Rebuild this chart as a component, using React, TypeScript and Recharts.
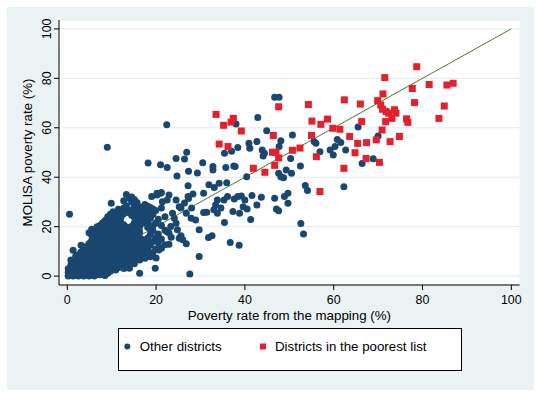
import React from 'react';
import { ScatterChart, Scatter, XAxis, YAxis, CartesianGrid, ReferenceLine, Legend, Label } from 'recharts';

const BLUE = '#1A476F';
const RED = '#E3202B';
const LINE = '#55752F';
const PANEL = '#EAF2F3';
const FONT = "'Liberation Sans', Arial, sans-serif";

const xTicks = [0, 20, 40, 60, 80, 100];
const yTicks = [0, 20, 40, 60, 80, 100];
const xTitle = 'Poverty rate from the mapping (%)';
const yTitle = 'MOLISA poverty rate (%)';
const seriesNames = ['Other districts', 'Districts in the poorest list'];

// Districts in the poorest list (x = mapping rate, y = MOLISA rate)
const poorestList: number[][] = [
  [33.5, 65.4], [34.2, 53.4], [35.2, 61.0], [36.2, 52.4], [36.9, 62.3], [37.4, 63.8], [39.2, 58.7],
  [41.9, 43.6], [44.5, 42.0], [46.4, 56.9], [46.2, 50.1], [47.0, 50.1], [46.7, 44.8], [47.6, 47.8],
  [47.6, 68.5], [50.7, 50.9], [52.4, 51.8], [54.3, 69.4], [55.0, 56.9], [55.1, 62.7], [56.1, 48.3],
  [56.9, 34.2], [57.1, 61.4], [58.6, 63.5], [59.8, 59.8], [61.4, 59.4], [62.4, 71.3], [62.3, 43.6],
  [63.6, 56.5], [64.8, 49.9], [65.4, 53.7], [66.0, 69.6], [66.3, 62.5], [67.4, 54.0], [67.3, 47.6],
  [69.6, 55.1], [69.9, 71.0], [70.3, 46.0], [70.9, 59.1], [71.1, 73.7], [71.5, 80.3], [70.6, 69.2],
  [71.0, 67.5], [71.8, 66.6], [72.4, 65.9], [73.7, 67.3], [74.0, 65.9], [73.1, 63.8], [71.7, 62.5],
  [72.7, 54.4], [74.8, 56.5], [76.4, 63.6], [76.7, 62.2], [77.7, 75.9], [78.2, 70.2], [78.7, 84.7],
  [81.5, 77.5], [83.7, 63.8], [84.9, 68.8], [85.5, 77.3], [86.9, 78.0],
];

// Other districts, scattered points
const otherSparse: number[][] = [
  [0.5, 25.0], [9.0, 52.1], [22.4, 61.2], [18.2, 45.8], [21.0, 45.0], [22.5, 43.9], [24.5, 47.6],
  [26.4, 47.4], [26.9, 50.1], [24.7, 40.5], [27.3, 42.4], [29.3, 41.7], [30.5, 45.9], [27.2, 36.6],
  [28.3, 33.2], [27.3, 31.4], [26.4, 29.6], [25.2, 28.1], [30.7, 33.5], [31.9, 37.0], [32.8, 44.3],
  [33.1, 35.8], [32.8, 42.9], [34.2, 37.6], [35.9, 37.8], [35.4, 49.7], [37.0, 50.5], [38.4, 52.0],
  [38.0, 61.5], [37.5, 44.5], [37.8, 44.3], [35.7, 43.9], [39.2, 32.4], [40.4, 40.2], [40.9, 53.7],
  [41.1, 51.7], [42.7, 54.4], [42.9, 64.2], [43.9, 51.0], [44.1, 48.6], [44.9, 58.8], [44.4, 49.7],
  [46.7, 72.3], [47.7, 72.3], [47.7, 52.4], [48.1, 54.8], [50.7, 57.1], [47.6, 41.6], [48.1, 40.2],
  [48.7, 39.8], [49.3, 42.9], [50.5, 41.6], [46.7, 31.5], [48.9, 32.2], [49.7, 33.5], [49.7, 29.5],
  [47.1, 27.1], [47.6, 26.4], [52.5, 44.5], [50.3, 47.6], [53.6, 36.7], [54.1, 34.6], [52.6, 21.3],
  [53.2, 17.0], [55.6, 54.4], [56.0, 53.7], [56.9, 50.3], [59.2, 51.0], [59.9, 49.0], [60.3, 52.4],
  [60.8, 55.3], [61.6, 54.0], [62.7, 51.0], [62.3, 36.1], [65.5, 60.3], [66.4, 45.6], [68.9, 47.5],
  [70.0, 56.7],
  [29.7, 7.9], [27.6, 0.9], [36.7, 13.6], [38.7, 12.5], [35.4, 21.7], [31.8, 15.6], [32.6, 16.3],
  [29.7, 18.7], [27.9, 23.4], [28.9, 22.7], [30.7, 25.7], [31.4, 25.8], [33.0, 26.8], [33.8, 25.4],
  [34.6, 27.5], [33.4, 28.8], [33.8, 30.8], [35.3, 30.8], [36.1, 32.2], [37.3, 26.1], [38.8, 25.4],
  [39.6, 28.1], [40.0, 30.8], [40.5, 27.1], [41.3, 22.9], [41.6, 32.6], [42.7, 28.8], [43.7, 31.9],
  [38.4, 32.2], [37.6, 31.2], [27.2, 32.2], [23.7, 25.4], [22.9, 32.8], [22.5, 30.8], [21.4, 30.1],
  [20.2, 33.5], [21.0, 33.5], [24.5, 21.4], [24.8, 18.7], [25.2, 15.3], [25.6, 16.3], [26.0, 14.7],
  [26.8, 13.1], [22.9, 12.9], [22.0, 12.7], [21.2, 11.3], [20.6, 10.6], [20.0, 7.3], [19.8, 3.2],
  [16.3, 1.2], [22.4, 18.0], [22.9, 17.4], [23.4, 15.7], [14.4, 5.2], [12.8, 3.2], [14.0, 3.2],
  [19.0, 32.2], [20.2, 32.8], [21.2, 33.8], [24.5, 30.8], [25.6, 27.5], [24.1, 23.4], [23.3, 20.1],
  [26.8, 25.4], [28.0, 27.5],
];

// Other districts, dense cluster near the origin: [x, y values...]
const otherDense: number[][] = [
  [0.2, 0, 1.5, 3],
  [0.8, 0.5, 2.5, 4.5, 6.5],
  [1.3, 0, 1.8, 3.5, 5.5, 10.5],
  [1.9, 0.8, 2.6, 4.4, 6.2, 8.0],
  [2.5, 0, 1.6, 3.3, 5.0, 6.8, 8.6],
  [3.1, 0.6, 2.4, 4.2, 6.0, 7.9, 9.8, 12.5],
  [3.7, 0, 1.5, 3.3, 5.1, 7.0, 8.8, 10.8],
  [4.3, 0.7, 2.5, 4.3, 6.2, 8.0, 10.0, 12.0],
  [4.9, 0, 1.6, 3.4, 5.3, 7.2, 9.1, 11.1, 13.2, 17.5],
  [5.5, 0.8, 2.6, 4.5, 6.4, 8.3, 10.2, 12.3, 14.5, 16.5, 19.0],
  [6.1, 0, 1.8, 3.6, 5.5, 7.4, 9.3, 11.3, 13.4, 15.5, 17.8],
  [6.7, 1.0, 2.9, 4.8, 6.7, 8.6, 10.5, 12.5, 14.6, 16.8, 20.0],
  [7.3, 0.5, 2.2, 4.0, 5.9, 7.8, 9.7, 11.7, 13.7, 15.8, 18.0, 20.5],
  [7.9, 1.5, 3.3, 5.2, 7.1, 9.0, 11.0, 13.0, 15.1, 17.2, 19.4, 21.5],
  [8.5, 0.2, 2.5, 4.4, 6.3, 8.2, 10.2, 12.2, 14.2, 16.3, 18.5, 20.8, 22.5],
  [9.1, 1.2, 3.6, 5.5, 7.4, 9.4, 11.4, 13.4, 15.5, 17.6, 19.8, 22.0, 24.0],
  [9.9, 29.5],
  [9.7, 2.0, 4.7, 6.6, 8.5, 10.5, 12.5, 14.6, 16.7, 18.9, 21.1, 23.4, 25.0],
  [10.3, 3.0, 5.8, 7.7, 9.6, 11.6, 13.6, 15.7, 17.8, 20.0, 22.2, 24.4, 26.0],
  [10.9, 2.5, 4.8, 6.9, 8.8, 10.8, 12.8, 14.8, 16.9, 19.1, 21.3, 23.5, 25.5],
  [11.5, 3.5, 5.9, 8.0, 10.0, 12.0, 14.0, 16.1, 18.2, 20.4, 22.6, 24.8, 27.0],
  [12.1, 4.5, 7.0, 9.1, 11.1, 13.1, 15.2, 17.3, 19.4, 21.6, 23.8, 26.0],
  [12.7, 3.2, 5.5, 8.2, 10.3, 12.3, 14.4, 16.5, 18.6, 20.8, 25.2, 27.5, 30.5],
  [13.3, 4.0, 6.6, 9.3, 11.5, 13.6, 15.7, 17.8, 19.9, 26.5, 28.5, 33.0],
  [13.9, 5.0, 7.8, 10.4, 12.6, 14.8, 16.9, 19.0, 25.6, 31.5],
  [14.5, 6.0, 9.0, 11.6, 13.8, 16.0, 18.1, 20.2, 24.6, 26.8, 30.0, 32.0],
  [15.1, 5.0, 7.5, 10.2, 12.8, 15.0, 17.2, 19.4, 21.6, 23.8, 26.0, 28.2, 31.0],
  [15.7, 7.0, 9.5, 11.8, 14.0, 16.3, 18.5, 20.7, 22.9, 25.1, 27.3, 29.8],
  [16.3, 6.5, 8.8, 11.0, 13.4, 15.6, 17.8, 20.0, 22.2, 24.4, 26.6, 28.0],
  [16.9, 8.0, 10.4, 12.6, 14.8, 21.4, 23.6, 25.8, 28.0],
  [17.5, 7.2, 9.6, 11.8, 14.0, 22.8, 25.0, 27.2, 29.0],
  [18.1, 8.5, 11.0, 13.2, 15.4, 19.8, 22.0, 24.2, 26.4, 28.3],
  [18.7, 7.8, 12.5, 16.8, 19.0, 23.4, 25.6, 27.8],
  [19.3, 9.5, 14.0, 18.3, 20.5, 24.9, 27.1],
  [19.9, 11.0, 15.5, 21.5, 26.5],
  [20.5, 13.5, 17.0, 23.0],
  [21.2, 15.0, 20.5, 27.5],
  [22.0, 18.5, 24.0],
];

const diagonal = [{ x: 0, y: 0 }, { x: 100, y: 100 }];

const otherData = [
  ...otherSparse.map(([x, y]) => ({ x, y })),
  ...otherDense.flatMap(([x, ...ys]) => ys.map((y) => ({ x, y }))),
];
const poorData = poorestList.map(([x, y]) => ({ x, y }));

const BlueDot = (p: any) => <circle cx={p.cx} cy={p.cy} r={3.5} fill={BLUE} />;
const RedSquare = (p: any) => <rect x={p.cx - 3.5} y={p.cy - 3.5} width={7} height={7} fill={RED} />;

const YTick = (p: any) => (
  <text
    transform={`translate(${p.x - 3.3},${p.y}) rotate(-90)`}
    textAnchor="middle"
    fontSize={12.4}
    fontFamily={FONT}
    fill="#000"
  >
    {p.payload.value}
  </text>
);

const XTitle = (p: any) => {
  const vb = p.viewBox || { x: 59, y: 285, width: 460.6, height: 28 };
  return (
    <text x={vb.x + vb.width / 2} y={vb.y + 35} textAnchor="middle" fontSize={13.3} fontFamily={FONT} fill="#000">
      {xTitle}
    </text>
  );
};

const YTitle = (p: any) => {
  const vb = p.viewBox || { x: 19, y: 20, width: 40, height: 265 };
  return (
    <text
      transform={`translate(${vb.x + 13},${vb.y + vb.height / 2}) rotate(-90)`}
      textAnchor="middle"
      fontSize={13.3}
      fontFamily={FONT}
      fill="#000"
    >
      {yTitle}
    </text>
  );
};

const LegendBox = () => (
  <svg width={344} height={43} style={{ display: 'block' }}>
    <rect x={0.5} y={0.5} width={343} height={42} fill="#fff" stroke="#000" strokeWidth={1} />
    <circle cx={9.3} cy={18.5} r={3} fill={BLUE} />
    <text x={21.7} y={23} fontSize={13.3} fontFamily={FONT} fill="#000">{seriesNames[0]}</text>
    <rect x={142} y={15.5} width={6} height={6} fill={RED} />
    <text x={157} y={23} fontSize={13.3} fontFamily={FONT} fill="#000">{seriesNames[1]}</text>
  </svg>
);

export default function App() {
  return (
    <div style={{ position: 'absolute', left: 0, top: 0, width: 541, height: 397, background: '#fff' }}>
      <div style={{ position: 'absolute', left: 7, top: 7, width: 527, height: 383, background: PANEL }} />
      <div style={{ position: 'absolute', left: 0, top: 0 }}>
        <ScatterChart width={541} height={397} margin={{ top: 20, right: 21.4, left: 19, bottom: 84 }}>
          <CartesianGrid vertical={false} stroke="#E2EBED" fill="#fff" />
          <XAxis
            type="number"
            dataKey="x"
            domain={[-1.87, 101.87]}
            ticks={xTicks}
            interval={0}
            allowDataOverflow
            height={28}
            tickSize={5}
            tickMargin={5}
            axisLine={{ stroke: '#000' }}
            tickLine={{ stroke: '#000' }}
            tick={{ fill: '#000', fontSize: 12.4, fontFamily: FONT }}
          >
            <Label content={XTitle} />
          </XAxis>
          <YAxis
            type="number"
            dataKey="y"
            domain={[-3.6, 103.6]}
            ticks={yTicks}
            interval={0}
            allowDataOverflow
            width={40}
            tickSize={5}
            tickMargin={0}
            axisLine={{ stroke: '#000' }}
            tickLine={{ stroke: '#000' }}
            tick={YTick}
          >
            <Label content={YTitle} />
          </YAxis>
          <Scatter name={seriesNames[0]} data={otherData} shape={BlueDot} isAnimationActive={false} />
          <Scatter name={seriesNames[1]} data={poorData} shape={RedSquare} isAnimationActive={false} />
          <ReferenceLine segment={diagonal} stroke={LINE} strokeWidth={1} ifOverflow="visible" />
          <Legend
            layout="horizontal"
            verticalAlign="middle"
            align="center"
            content={LegendBox}
            wrapperStyle={{ position: 'absolute', left: 118, top: 328, width: 344, height: 43 }}
          />
        </ScatterChart>
      </div>
    </div>
  );
}
